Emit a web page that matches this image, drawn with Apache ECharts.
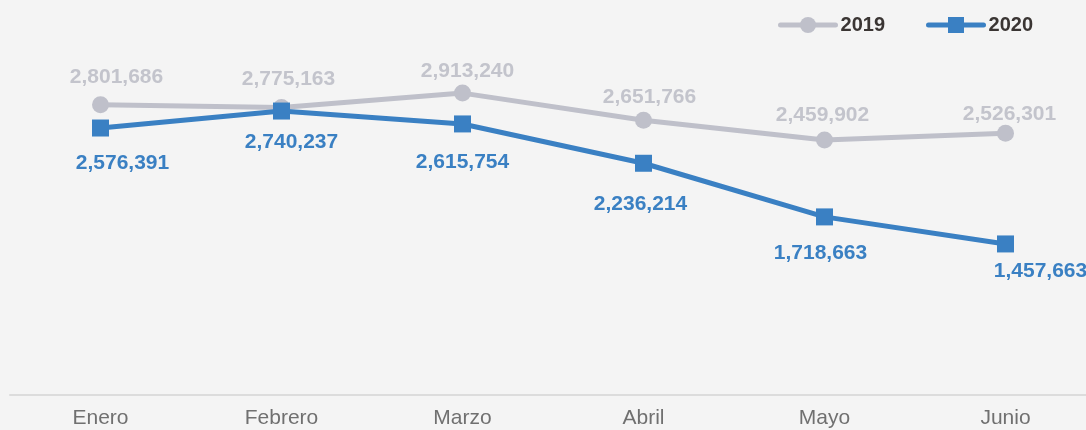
<!DOCTYPE html>
<html>
<head>
<meta charset="utf-8">
<script src="https://cdn.jsdelivr.net/npm/echarts@6/dist/echarts.min.js"></script>
<style>
    html, body { margin: 0; padding: 0; background: #f4f4f4; }
    #chart { width: 1086px; height: 430px; }
</style>
</head>
<body>
<div id="chart"></div>
<script>
var meses = ['Enero', 'Febrero', 'Marzo', 'Abril', 'Mayo', 'Junio'];
var datos2019 = [2801686, 2775163, 2913240, 2651766, 2459902, 2526301];
var datos2020 = [2576391, 2740237, 2615754, 2236214, 1718663, 1457663];

// desplazamiento de etiquetas (como en el original)
var offs2019 = [[16, 2], [7, 1], [5, 7], [6, 6], [-2, 4], [4, 10]];
var offs2020 = [[22, 2], [10, -2], [0, 5], [-3, 8], [-4, 3], [35, -6]];

var gris = '#bfc0ca';
var azul = '#3a80c3';
var fuente = "'Liberation Sans', Arial, sans-serif";

function fmt(v) {
    return v.toString().replace(/\B(?=(\d{3})+(?!\d))/g, ',');
}

function conEtiquetas(valores, offs) {
    return valores.map(function (v, i) {
        return { value: v, label: { offset: offs[i] } };
    });
}

var myChart = echarts.init(document.getElementById('chart'));
var option = {
    backgroundColor: '#f4f4f4',
    textStyle: { fontFamily: fuente },
    legend: {
        right: 48,
        top: 10,
        itemWidth: 55,
        itemHeight: 20,
        itemGap: 41,
        lineStyle: { width: 5, cap: 'round' },
        textStyle: { fontSize: 20, fontWeight: 'bold', color: '#3a3533', fontFamily: fuente },
        data: ['2019', '2020']
    },
    grid: { left: 10, right: -10, top: 35, bottom: 35, containLabel: false, outerBoundsMode: 'none' },
    xAxis: {
        type: 'category',
        data: meses,
        boundaryGap: true,
        axisLine: { lineStyle: { color: '#dcdcdc', width: 2 } },
        axisTick: { show: false },
        axisLabel: { fontSize: 21, color: '#707070', margin: 13, fontFamily: fuente }
    },
    yAxis: {
        type: 'value',
        min: 0,
        max: 3474000,
        show: false,
        splitLine: { show: false }
    },
    series: [
        {
            name: '2019',
            type: 'line',
            symbol: 'circle',
            symbolSize: 17,
            itemStyle: { color: gris },
            lineStyle: { color: gris, width: 5 },
            label: {
                show: true,
                position: 'top',
                distance: 10,
                fontSize: 21,
                fontWeight: 'bold',
                fontFamily: fuente,
                color: '#c3c4cc',
                formatter: function (p) { return fmt(p.value); }
            },
            data: conEtiquetas(datos2019, offs2019)
        },
        {
            name: '2020',
            type: 'line',
            symbol: 'rect',
            symbolSize: 17,
            itemStyle: { color: azul },
            lineStyle: { color: azul, width: 5 },
            label: {
                show: true,
                position: 'bottom',
                distance: 14,
                fontSize: 21,
                fontWeight: 'bold',
                fontFamily: fuente,
                color: azul,
                formatter: function (p) { return fmt(p.value); }
            },
            data: conEtiquetas(datos2020, offs2020)
        }
    ]
};
myChart.setOption(option);
window.addEventListener('resize', () => {
    myChart.resize();
});
</script>
</body>
</html>
